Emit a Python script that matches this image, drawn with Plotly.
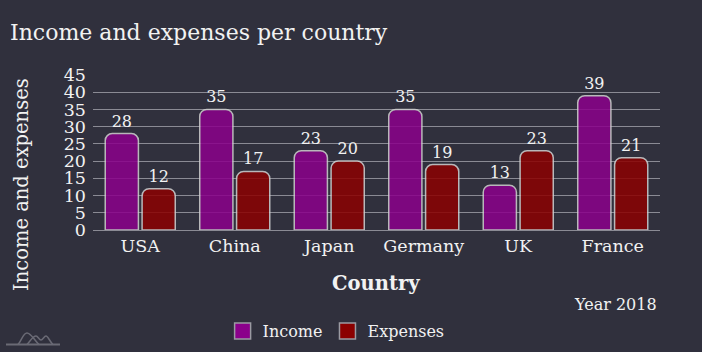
import plotly.graph_objects as go

countries = ["USA", "China", "Japan", "Germany", "UK", "France"]
income = [28, 35, 23, 35, 13, 39]
expenses = [12, 17, 20, 19, 23, 21]
y_ticks = [0, 5, 10, 15, 20, 25, 30, 35, 40, 45]

BG = "#30303d"
TXT = "#f2f2f2"
FONT = "DejaVu Serif"
INC_COLOR = "#8b008b"
EXP_COLOR = "#8b0000"

L, R, T, B = 93, 42, 75, 122
PW, PH = 702 - L - R, 352 - T - B


def px(x):
    return (x - L) / PW


def py(y):
    return (352 - B - y) / PH


def bez_path(start, segs):
    s = "M %f %f" % (px(start[0]), py(start[1]))
    for seg in segs:
        s += " C " + " ".join("%f %f" % (px(a), py(b)) for a, b in seg)
    return s


fig = go.Figure()
fig.add_trace(go.Bar(
    name="Income", x=countries, y=income, showlegend=False,
    marker=dict(color=INC_COLOR, opacity=0.85,
                line=dict(color="#d0d0d0", width=1.5)),
    text=income, textposition="outside", cliponaxis=False,
    textfont=dict(family=FONT, size=16, color=TXT),
))
fig.add_trace(go.Bar(
    name="Expenses", x=countries, y=expenses, showlegend=False,
    marker=dict(color=EXP_COLOR, opacity=0.85,
                line=dict(color="#d0d0d0", width=1.5)),
    text=expenses, textposition="outside", cliponaxis=False,
    textfont=dict(family=FONT, size=16, color=TXT),
))
# legend entries
for name, col in [("Income", INC_COLOR), ("Expenses", EXP_COLOR)]:
    fig.add_trace(go.Scatter(
        x=[None], y=[None], mode="markers", name=name,
        marker=dict(symbol="square", size=16, color=col,
                    line=dict(color="#9a9aa2", width=1.5)),
    ))

fig.update_layout(
    width=702, height=352,
    paper_bgcolor=BG, plot_bgcolor=BG,
    font=dict(family=FONT, color=TXT, size=16),
    margin=dict(l=L, r=R, t=T, b=B, autoexpand=False),
    barmode="group", bargap=0.22, bargroupgap=0.1,
    barcornerradius=7,
    title=dict(text="Income and expenses per country", x=10/702, xanchor="left",
               y=1 - 32/352, yanchor="middle",
               font=dict(family=FONT, size=22, color=TXT)),
    xaxis=dict(showgrid=False, showline=True, linecolor="#8a8a94", linewidth=1,
               ticks="", tickfont=dict(size=17.5, color=TXT)),
    yaxis=dict(range=[0, 45], tickvals=y_ticks, showgrid=True, gridcolor="#8a8a94",
               gridwidth=1, zeroline=False, ticks="", ticklabelstandoff=6,
               tickfont=dict(size=17.5, color=TXT)),
    legend=dict(orientation="h", x=301/702, xanchor="center", y=1 - 331/352, yanchor="middle",
                yref="container", font=dict(size=16, color=TXT), itemsizing="trace",
                bgcolor="rgba(0,0,0,0)", itemwidth=30, tracegroupgap=0),
    showlegend=True,
)

# axis titles
fig.add_annotation(text="Income and expenses", xref="paper", yref="paper",
                   x=px(21), y=py(185), xanchor="center", yanchor="middle",
                   textangle=-90, showarrow=False,
                   font=dict(family=FONT, size=19.5, color=TXT))
fig.add_annotation(text="<b>Country</b>", xref="paper", yref="paper",
                   x=px(376), y=py(283), xanchor="center", yanchor="middle",
                   showarrow=False, font=dict(family=FONT, size=19.5, color=TXT))
fig.add_annotation(text="Year 2018", xref="paper", yref="paper", x=px(659), xanchor="right",
                   y=py(304), yanchor="middle", showarrow=False,
                   font=dict(family=FONT, size=16, color=TXT))

# decorative logo, bottom-left
LOGO = "#6a6a75"
fig.add_shape(type="path", xref="paper", yref="paper",
              path="M %f %f L %f %f" % (px(6), py(344.5), px(60), py(344.5)),
              line=dict(color=LOGO, width=2))
fig.add_shape(type="path", xref="paper", yref="paper",
              path=bez_path((18, 344.5), [
                  [(22, 340), (23, 333), (27, 333)],
                  [(31, 333), (34, 340), (39, 344.5)],
              ]),
              line=dict(color=LOGO, width=1.5))
fig.add_shape(type="path", xref="paper", yref="paper",
              path=bez_path((27, 344.5), [
                  [(31, 340), (33, 336), (36, 336)],
                  [(38, 336), (39, 340), (41, 340)],
                  [(43, 340), (44, 336), (46, 336)],
                  [(48, 336), (50, 342), (53, 344.5)],
              ]),
              line=dict(color=LOGO, width=1.5))

fig.write_html("out.html")
